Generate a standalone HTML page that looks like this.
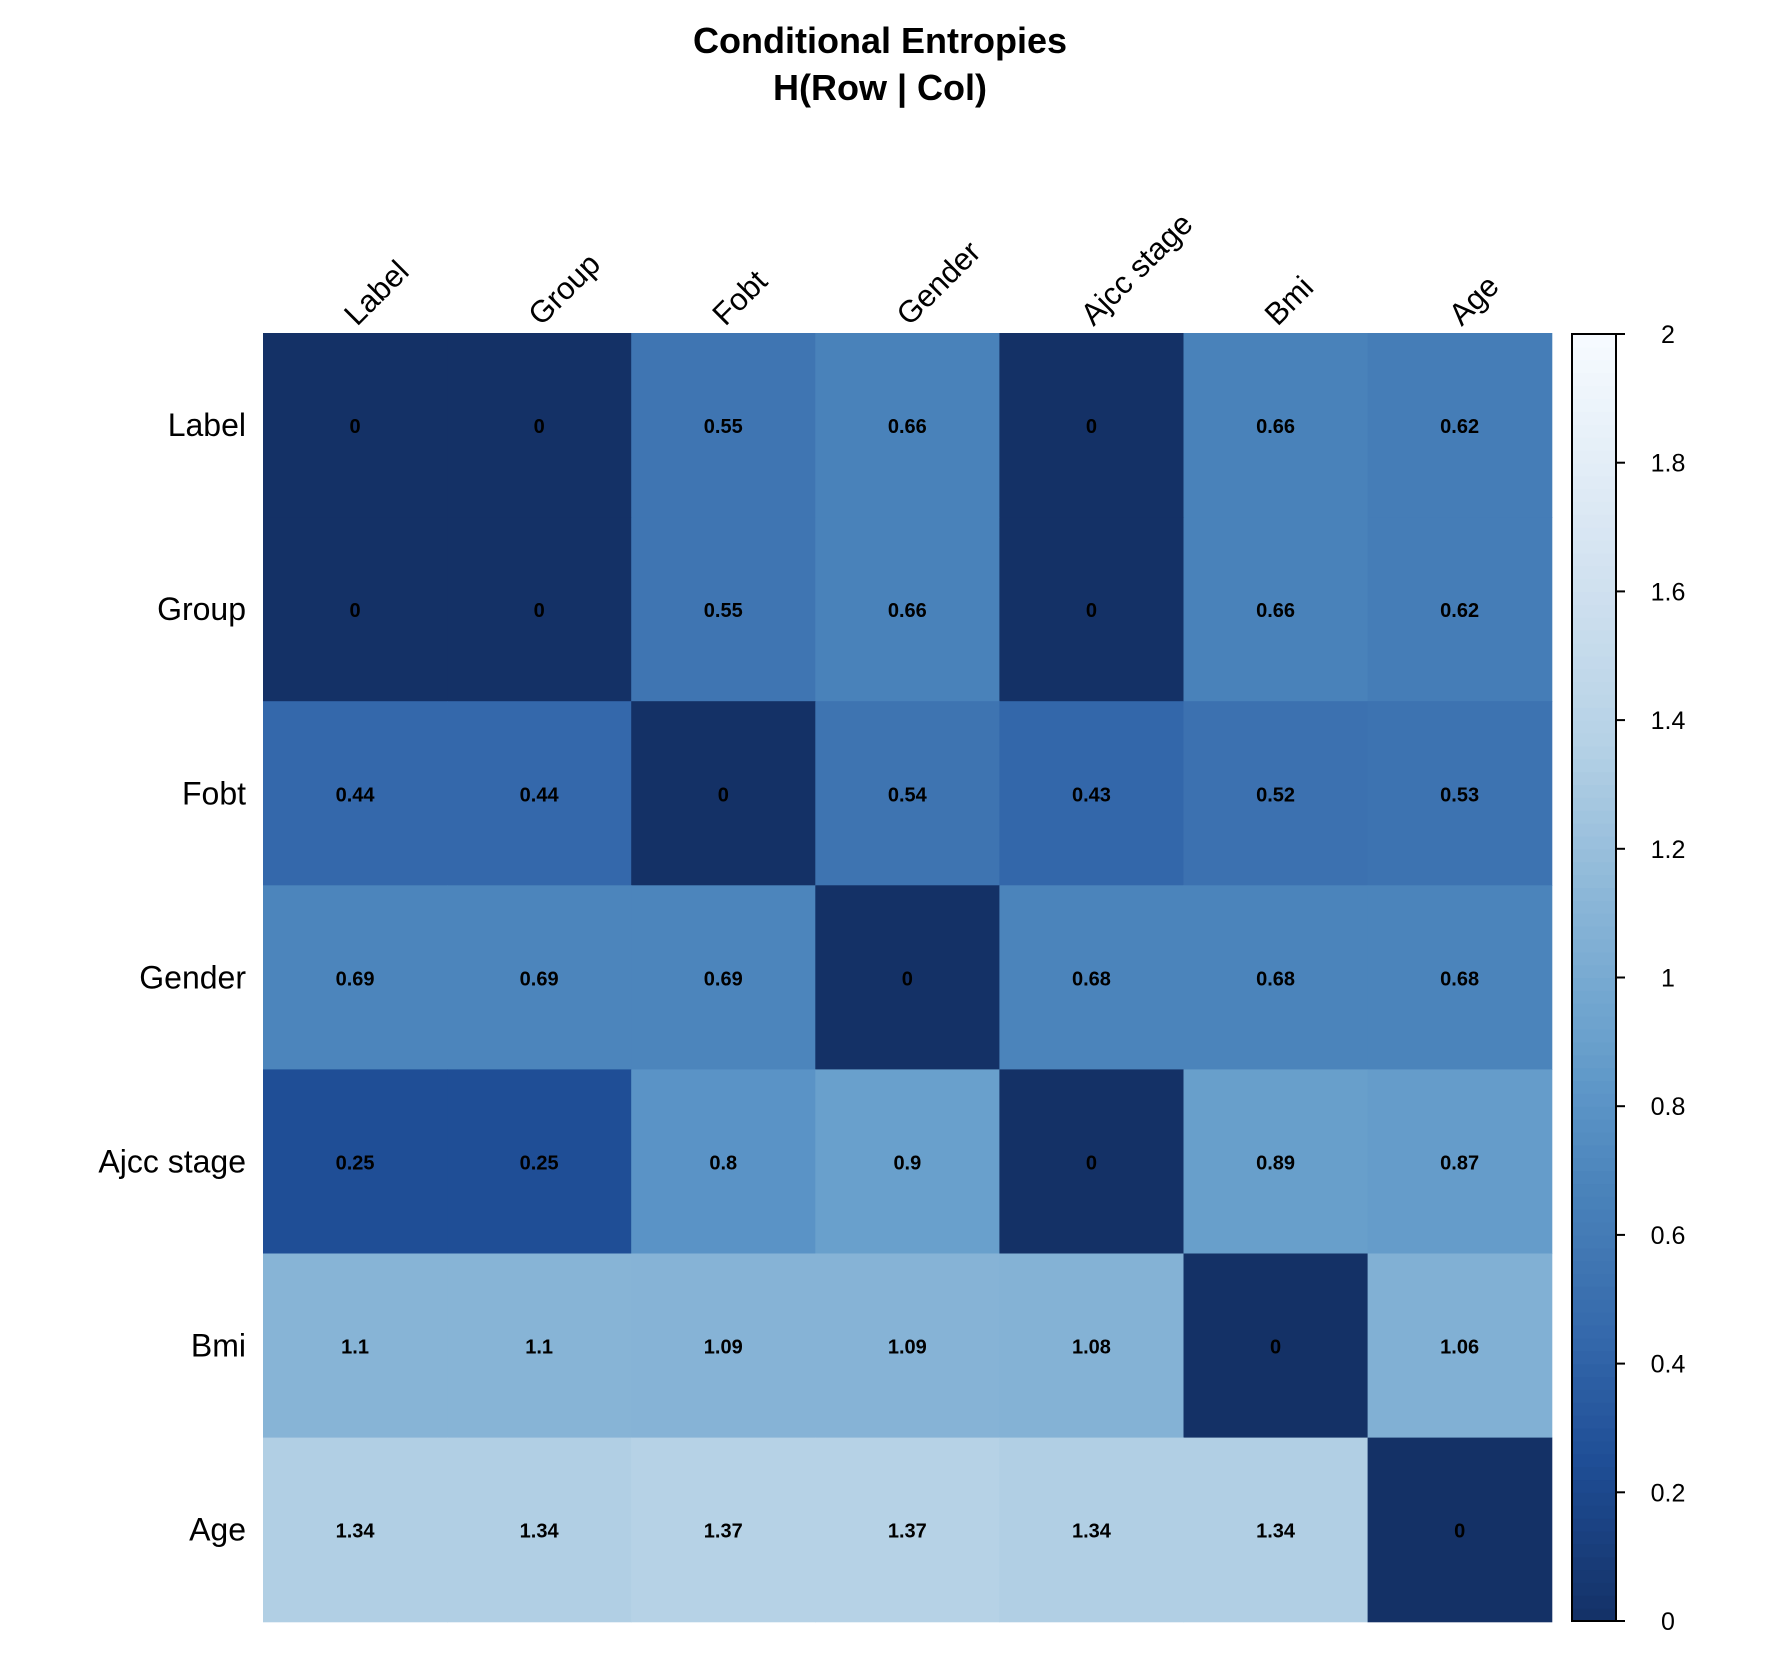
<!DOCTYPE html>
<html><head><meta charset="utf-8"><style>body{margin:0;background:#fff}svg{display:block}</style></head>
<body>
<svg id="s" width="1782" height="1672" xmlns="http://www.w3.org/2000/svg" font-family="Liberation Sans, Arial, sans-serif">
<rect width="1782" height="1672" fill="#fff"/>
<text x="880" y="53" font-size="36" font-weight="bold" text-anchor="middle">Conditional Entropies</text>
<text x="880" y="100" font-size="36" font-weight="bold" text-anchor="middle">H(Row | Col)</text>
</svg>
<script>
const names=["Label","Group","Fobt","Gender","Ajcc stage","Bmi","Age"];
const M=[[0,0,0.55,0.66,0,0.66,0.62],[0,0,0.55,0.66,0,0.66,0.62],[0.44,0.44,0,0.54,0.43,0.52,0.53],[0.69,0.69,0.69,0,0.68,0.68,0.68],[0.25,0.25,0.8,0.9,0,0.89,0.87],[1.1,1.1,1.09,1.09,1.08,0,1.06],[1.34,1.34,1.37,1.37,1.34,1.34,0]];
const A=[[0,"#143166"],[0.25,"#1f4e96"],[0.44,"#3468ab"],[0.55,"#3f75b2"],[0.68,"#4b84bb"],[0.8,"#5a93c6"],[0.9,"#69a0cc"],[1.1,"#87b4d6"],[1.37,"#b6d2e6"],[1.6,"#cfe0ef"],[2,"#f7fbff"]];
function h(c){return [1,3,5].map(i=>parseInt(c.substr(i,2),16))}
function col(v){for(let i=0;i<A.length-1;i++){if(v<=A[i+1][0]){const t=(v-A[i][0])/(A[i+1][0]-A[i][0]);const a=h(A[i][1]),b=h(A[i+1][1]);return "rgb("+a.map((x,k)=>Math.round(x+(b[k]-x)*t)).join(",")+")"}}return A[A.length-1][1]}
const s=document.getElementById('s');let o="";
const X0=263,Y0=333,C=184.1;
for(let r=0;r<7;r++)for(let c=0;c<7;c++){const v=M[r][c];o+=`<rect x="${X0+c*C}" y="${Y0+r*C}" width="${C+0.6}" height="${C+0.6}" fill="${col(v)}"/>`;
o+=`<text x="${X0+c*C+C/2}" y="${Y0+r*C+C/2+8}" font-size="20" font-weight="bold" text-anchor="middle">${v}</text>`;}
for(let i=0;i<7;i++){o+=`<text x="246" y="${Y0+i*C+C/2+11}" font-size="32" text-anchor="end">${names[i]}</text>`;
const cx=X0+i*C+C/2+2,cy=327;o+=`<text x="${cx}" y="${cy}" font-size="31" transform="rotate(-45 ${cx} ${cy})">${names[i]}</text>`;}
const bx=1572,bw=44,bt=334,bb=1621;const n=100;
for(let i=0;i<n;i++){const v=2*i/n;const y=bb-(bb-bt)*(i+1)/n;o+=`<rect x="${bx}" y="${y}" width="${bw}" height="${(bb-bt)/n+0.6}" fill="${col(v+0.01)}"/>`;}
o+=`<rect x="${bx}" y="${bt}" width="${bw}" height="${bb-bt}" fill="none" stroke="#000" stroke-width="2"/>`;
for(let i=0;i<=10;i++){const v=i*0.2;const y=bb-(bb-bt)*v/2;o+=`<line x1="${bx+bw}" x2="${bx+bw+9}" y1="${y}" y2="${y}" stroke="#000" stroke-width="2"/>`;
o+=`<text x="1668" y="${y+9}" font-size="25" text-anchor="middle">${i==0?"0":i==5?"1":i==10?"2":v.toFixed(1)}</text>`;}
s.insertAdjacentHTML('beforeend',o);
</script>
</body></html>
